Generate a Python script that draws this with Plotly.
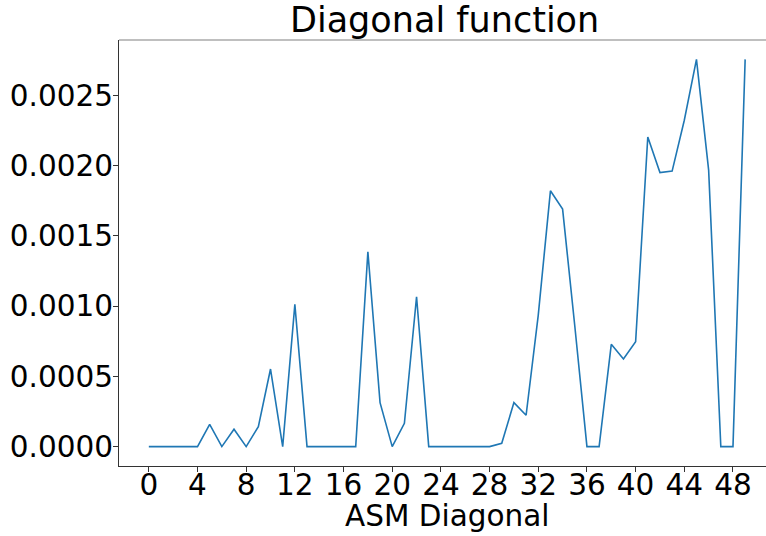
import plotly.graph_objects as go

# Data
asm_diagonal = list(range(50))
diagonal_values = [
    0.0, 0.0, 0.0, 0.0, 0.0,            # 0-4
    0.000159, 0.0, 0.000124, 0.0, 0.000142,   # 5-9
    0.000552, 0.0, 0.001012, 0.0, 0.0,        # 10-14
    0.0, 0.0, 0.0, 0.001386, 0.000313,        # 15-19
    0.0, 0.000166, 0.001066, 0.0, 0.0,        # 20-24
    0.0, 0.0, 0.0, 0.0, 0.000024,             # 25-29
    0.000313, 0.000223, 0.000936, 0.00182, 0.00169,  # 30-34
    0.00086, 0.0, 0.0, 0.000728, 0.000623,    # 35-39
    0.000746, 0.002203, 0.00195, 0.00196, 0.002322,  # 40-44
    0.002755, 0.001967, 0.0, 0.0, 0.002755,   # 45-49
]
x_ticks = list(range(0, 49, 4))
y_ticks = [0.0, 0.0005, 0.0010, 0.0015, 0.0020, 0.0025]
title_text = "Diagonal function"
x_label = "ASM Diagonal"

FONT = "DejaVu Sans"
W, H = 766, 536
L, R, T, B = 119, 0, 40, 70
TICK_SIZE = 29.5

fig = go.Figure()
fig.add_trace(go.Scatter(
    x=asm_diagonal, y=diagonal_values, mode="lines",
    line=dict(color="#1f77b4", width=1.6),
    showlegend=False, hoverinfo="x+y",
))

px_per_unit = 12.17
x_lo = -2.45
x_hi = x_lo + (W - L - R) / px_per_unit
title_center_paper = (444 - L) / (W - L - R)
label_center_paper = (447.5 - L) / (W - L - R)

fig.update_layout(
    width=W, height=H,
    margin=dict(l=L, r=R, t=T, b=B, pad=0),
    paper_bgcolor="white", plot_bgcolor="white",
    font=dict(family=FONT, size=28, color="black"),
    xaxis=dict(
        range=[x_lo, x_hi], tickvals=x_ticks, ticktext=[str(v) for v in x_ticks],
        showgrid=False, zeroline=False, showline=True, linecolor="#333333", linewidth=1.2,
        ticks="outside", ticklen=5, tickwidth=1.1, tickcolor="#333333",
        tickfont=dict(family=FONT, size=TICK_SIZE, color="black"),
        automargin=False, ticklabelstandoff=-13,
    ),
    yaxis=dict(
        range=[-0.000138, 0.002893], tickvals=y_ticks,
        ticktext=[f"{v:.4f}" for v in y_ticks],
        showgrid=False, zeroline=False, showline=True, linecolor="#333333", linewidth=1.2,
        ticks="outside", ticklen=5, tickwidth=1.1, tickcolor="#333333",
        tickfont=dict(family=FONT, size=TICK_SIZE, color="black"),
        automargin=False, ticklabelstandoff=-6,
    ),
    shapes=[dict(type="line", xref="paper", yref="paper", x0=0, x1=1, y0=1, y1=1,
                 line=dict(color="#aaaaaa", width=1.5))],
    annotations=[
        dict(text=title_text, xref="paper", yref="paper", x=title_center_paper, y=1,
             xanchor="center", yanchor="bottom", yshift=-2, showarrow=False,
             font=dict(family=FONT, size=35, color="black")),
        dict(text=x_label, xref="paper", yref="paper", x=label_center_paper, y=0,
             xanchor="center", yanchor="top", yshift=-31, showarrow=False,
             font=dict(family=FONT, size=TICK_SIZE, color="black")),
    ],
)

fig.write_html("out.html", config={"displayModeBar": False},
               post_script="document.body.style.margin='0px';document.body.style.overflow='hidden';")
